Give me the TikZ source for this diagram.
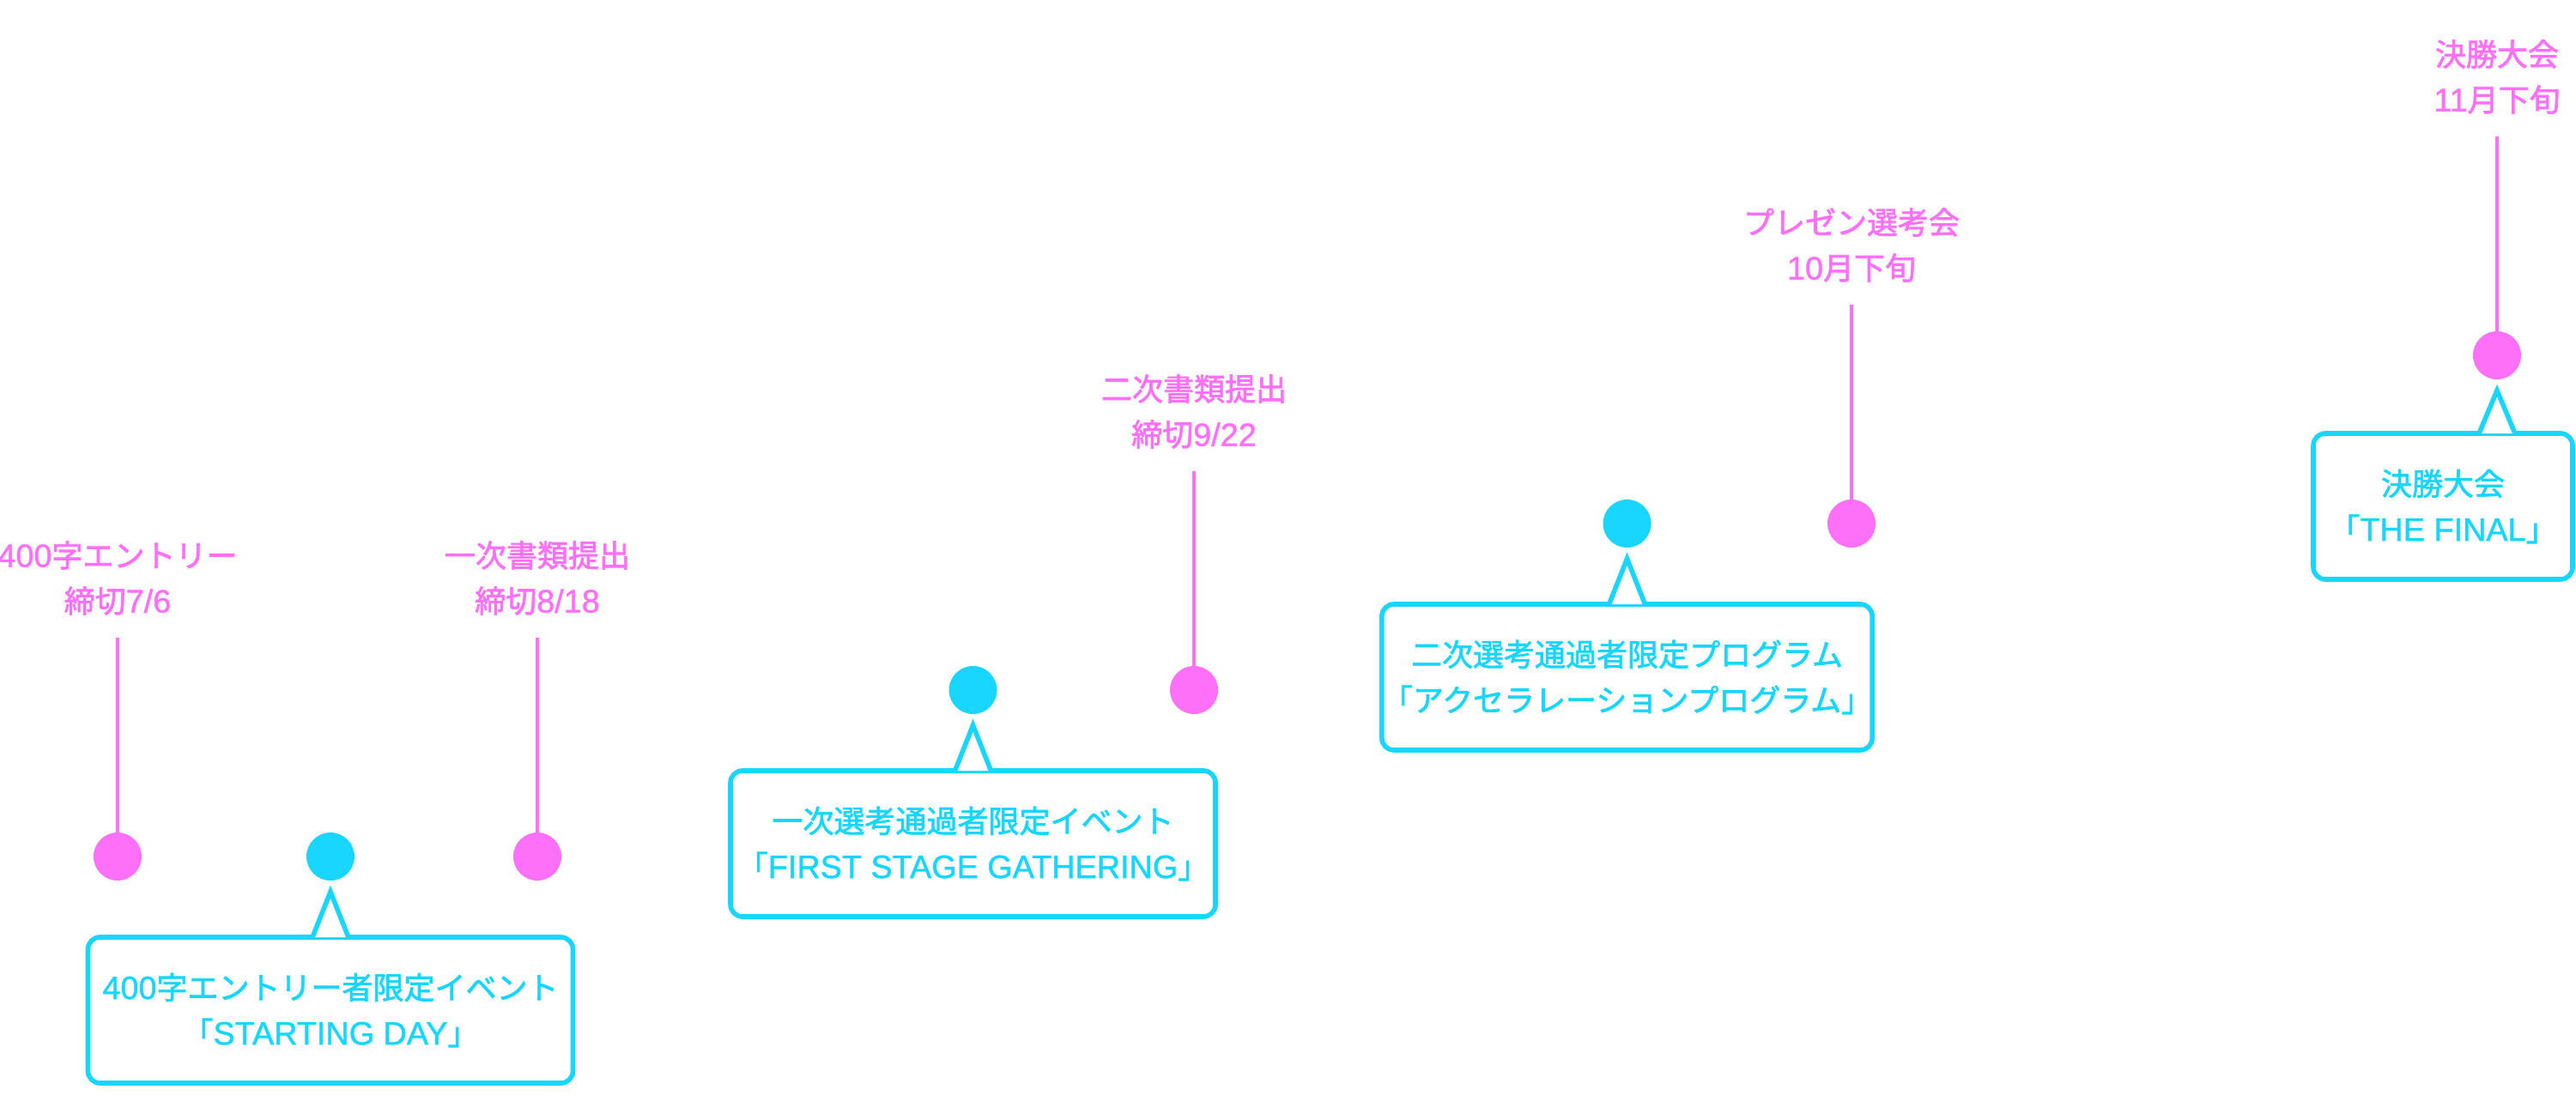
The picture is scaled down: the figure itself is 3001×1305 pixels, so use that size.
\documentclass[tikz,border=0pt]{standalone}
\usepackage{fontspec}
\setmainfont{Noto Sans CJK JP}[FakeBold=2]
\newfontfamily\lat{Liberation Sans}[Scale=1.05, FakeBold=1.2]
\usepackage{xcolor}
\usetikzlibrary{shapes}
\usetikzlibrary{positioning}
\usetikzlibrary{calc}

\definecolor{dotpink}{RGB}{255,112,248}
\definecolor{dotblue}{RGB}{24,214,255}

\tikzset{
    pinkdot/.style={circle, fill=dotpink, minimum size=28pt, inner sep=0pt},
    bluedot/.style={circle, fill=dotblue, minimum size=28pt, inner sep=0pt},
    pinkline/.style={draw=dotpink, line width=2.4pt},
    pinklabel/.style={text=dotpink, align=center, inner sep=0pt, font=\fontsize{18}{26.5}\selectfont},
    bluebox/.style={draw=dotblue, line width=2.8pt, rounded corners=7pt, text=dotblue, align=center, inner sep=0pt, minimum height=85pt, font=\fontsize{18}{26.5}\selectfont},
    boxtip/.style={draw=dotblue, line width=2.8pt, fill=white, line join=miter},
}

\begin{document}
\begin{tikzpicture}[x=0.5pt, y=-0.5pt]
    \useasboundingbox (0,0) rectangle (3001,1305);

    \node (pd1) [pinkdot] at (137,998) {};
    \node (pd2) [pinkdot] at (626,998) {};
    \node (pd3) [pinkdot] at (1391,804) {};
    \node (pd4) [pinkdot] at (2157,610) {};
    \node (pd5) [pinkdot] at (2909,414) {};

    \node (bd1) [bluedot] at (385,998) {};
    \node (bd2) [bluedot] at (1133.5,804) {};
    \node (bd3) [bluedot] at (1895.5,610) {};

    \node (lab1) [pinklabel] at (137,673.5) {{\lat 400}字エントリー\\締切{\lat 7/6}};
    \node (lab2) [pinklabel] at (626,673.5) {一次書類提出\\締切{\lat 8/18}};
    \node (lab3) [pinklabel] at (1391,479.5) {二次書類提出\\締切{\lat 9/22}};
    \node (lab4) [pinklabel] at (2157,285.5) {プレゼン選考会\\{\lat 10}月下旬};
    \node (lab5) [pinklabel] at (2909,89.5) {決勝大会\\{\lat 11}月下旬};

    \coordinate (top1) at (137,743);
    \coordinate (top2) at (626,743);
    \coordinate (top3) at (1391,549);
    \coordinate (top4) at (2157,355);
    \coordinate (top5) at (2909,159);

    \draw[pinkline] (top1) -- (pd1);
    \draw[pinkline] (top2) -- (pd2);
    \draw[pinkline] (top3) -- (pd3);
    \draw[pinkline] (top4) -- (pd4);
    \draw[pinkline] (top5) -- (pd5);

    \node (box1) [bluebox, minimum width=282.5pt] at (385,1177) {{\lat 400}字エントリー者限定イベント\\「{\lat STARTING DAY}」};
    \node (box2) [bluebox, minimum width=282.5pt] at (1133.5,983) {一次選考通過者限定イベント\\「{\lat FIRST STAGE GATHERING}」};
    \node (box3) [bluebox, minimum width=282.5pt] at (1895.5,789) {二次選考通過者限定プログラム\\「アクセラレーションプログラム」};
    \node (box4) [bluebox, minimum width=151pt] at (2846,590) {決勝大会\\「{\lat THE FINAL}」};

    \coordinate (tip1) at ($(bd1)+(0,41)$);
    \coordinate (tip2) at ($(bd2)+(0,41)$);
    \coordinate (tip3) at ($(bd3)+(0,41)$);
    \coordinate (tip4) at ($(pd5)+(0,41)$);

    \coordinate (base1) at (box1.north -| tip1);
    \coordinate (base2) at (box2.north -| tip2);
    \coordinate (base3) at (box3.north -| tip3);
    \coordinate (base4) at (box4.north -| tip4);

    \draw[boxtip] ($(base1)+(-21,3)$) -- (tip1) -- ($(base1)+(21,3)$);
    \draw[boxtip] ($(base2)+(-21,3)$) -- (tip2) -- ($(base2)+(21,3)$);
    \draw[boxtip] ($(base3)+(-21,3)$) -- (tip3) -- ($(base3)+(21,3)$);
    \draw[boxtip] ($(base4)+(-21,3)$) -- (tip4) -- ($(base4)+(21,3)$);

\end{tikzpicture}
\end{document}
